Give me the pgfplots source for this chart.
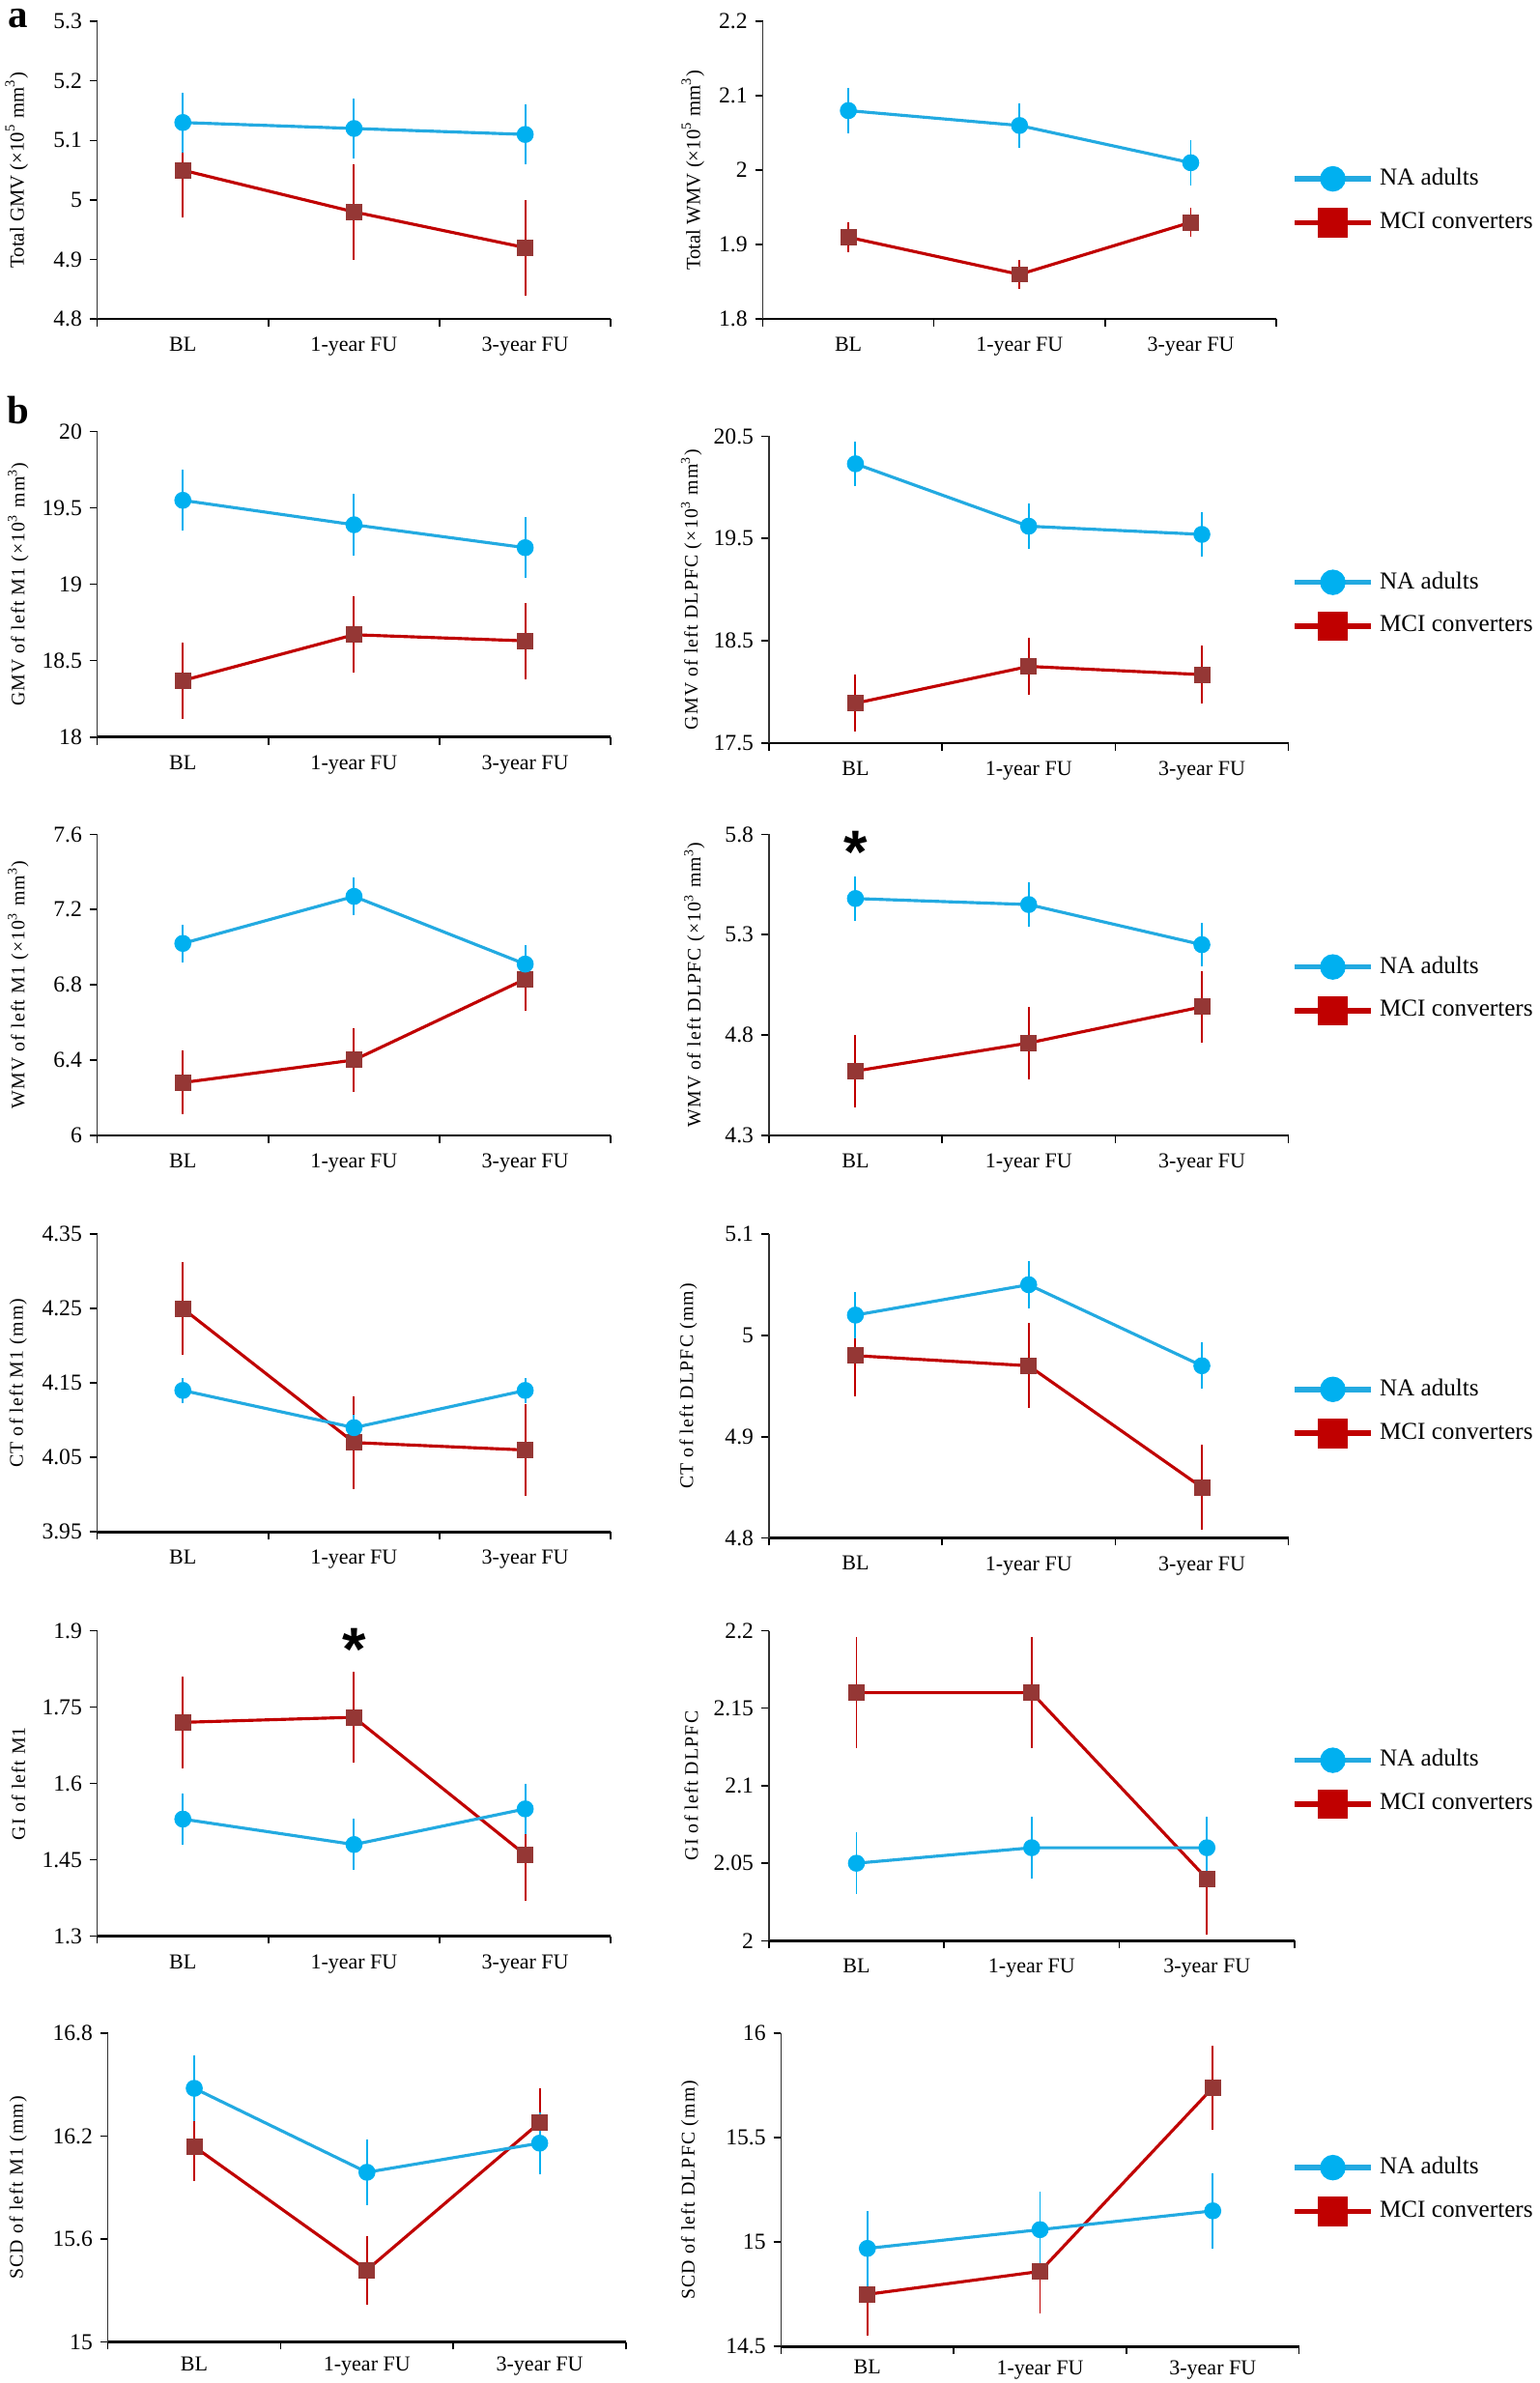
\documentclass[border=0pt]{standalone}
\usepackage{fontspec}
\setmainfont{Liberation Serif}
\newfontfamily\lblfont[LetterSpace=6]{Liberation Serif}
\newfontfamily\astfont{Liberation Sans}
\usepackage{pgfplots}
\pgfplotsset{compat=1.18}
\definecolor{nablue}{RGB}{0,176,240}
\definecolor{nabluel}{RGB}{35,170,225}
\definecolor{mcired}{RGB}{192,0,0}
\definecolor{mcibrown}{RGB}{149,55,53}

\pgfplotsset{
  panel/.style={
    scale only axis,
    anchor=south west,
    xmin=0.5, xmax=3.5,
    axis lines=left,
    axis line style={-},
    x axis line style={line width=0.8pt},
    y axis line style={line width=0.5pt, draw=black!80},
    tick align=outside,
    xtick={0.5,1.5,2.5,3.5},
    xticklabels={},
    extra x ticks={1,2,3},
    extra x tick labels={BL,1-year FU,3-year FU},
    extra x tick style={major tick length=0pt},
    major tick length=2.5pt,
    tick style={black, line width=0.5pt},
    x tick label style={font=\fontsize{7}{8}\selectfont, yshift=-2.5pt},
    y tick label style={font=\fontsize{7.5}{8}\selectfont, xshift=1pt},
    /pgf/number format/assume math mode=true,
    clip=false,
    reverse legend,
    legend cell align=left,
    legend style={draw=none, fill=none, font=\fontsize{8}{9}\selectfont, anchor=west,
      row sep=3.5pt, inner sep=0pt},
    legend image code/.code={\draw[mark repeat=2,mark phase=2,##1, line width=1.8pt, mark size=4pt]
       plot coordinates {(0pt,0pt) (12.5pt,0pt) (25pt,0pt)};},
  },
  ylab/.style 2 args={ylabel={#2},
    every axis y label/.style={at={([xshift=-#1]axis description cs:0,0.5)}, rotate=90, anchor=center,
      font=\lblfont\fontsize{6.3}{7}\selectfont}},
  leg/.style 2 args={legend style={at={([xshift=#2]axis description cs:1,#1)}}},
  nastyle/.style={color=nabluel, line width=1pt, mark=*, mark size=2.6pt,
    mark options={fill=nablue, draw=nablue, line width=0.4pt},
    error bars/.cd, y dir=both, y explicit, error mark=none,
    error bar style={line width=0.6pt, color=nablue}},
  mcistyle/.style={color=mcired, line width=1pt, mark=square*, mark size=2.5pt,
    mark options={fill=mcibrown, draw=mcibrown, line width=0.4pt},
    legend image post style={mark options={fill=mcired, draw=mcired}},
    error bars/.cd, y dir=both, y explicit, error mark=none,
    error bar style={line width=0.6pt, color=mcired}},
}

\begin{document}
\begin{tikzpicture}
\useasboundingbox (0,0) rectangle (506.5pt,784pt);
\node[font=\bfseries\fontsize{13}{13}\selectfont] at (6pt,778pt) {a};
\node[font=\bfseries\fontsize{13}{13}\selectfont] at (6pt,649pt) {b};

% ---------- Row 1 ----------
\begin{axis}[panel, at={(32pt,679pt)}, width=169pt, height=98pt,
  ymin=4.8, ymax=5.3, ytick={4.8,4.9,5,5.1,5.2,5.3},
  ylab={26.5pt}{Total GMV (×10\textsuperscript{5} mm\textsuperscript{3})},
  every axis y label/.append style={font=\fontsize{6.6}{7}\selectfont}]
\addplot[mcistyle] coordinates {(1,5.05) +- (0,0.08) (2,4.98) +- (0,0.08) (3,4.92) +- (0,0.08)};
\addplot[nastyle] coordinates {(1,5.13) +- (0,0.05) (2,5.12) +- (0,0.05) (3,5.11) +- (0,0.05)};
\end{axis}

\begin{axis}[panel, at={(251pt,679pt)}, width=169pt, height=98pt,
  ymin=1.8, ymax=2.2, ytick={1.8,1.9,2,2.1,2.2},
  ylab={23pt}{Total WMV (×10\textsuperscript{5} mm\textsuperscript{3})},
  every axis y label/.append style={font=\fontsize{6.6}{7}\selectfont},
  leg={0.398}{5pt}]
\addplot[mcistyle] coordinates {(1,1.91) +- (0,0.02) (2,1.86) +- (0,0.02) (3,1.93) +- (0,0.02)};
\addlegendentry{MCI converters}
\addplot[nastyle] coordinates {(1,2.08) +- (0,0.03) (2,2.06) +- (0,0.03) (3,2.01) +- (0,0.03)};
\addlegendentry{NA adults}
\end{axis}

% ---------- Row 2 ----------
\begin{axis}[panel, at={(32pt,541.5pt)}, width=169pt, height=100.5pt,
  ymin=18, ymax=20, ytick={18,18.5,19,19.5,20},
  ylab={26pt}{GMV of left M1 (×10\textsuperscript{3} mm\textsuperscript{3})}]
\addplot[mcistyle] coordinates {(1,18.37) +- (0,0.25) (2,18.67) +- (0,0.25) (3,18.63) +- (0,0.25)};
\addplot[nastyle] coordinates {(1,19.55) +- (0,0.2) (2,19.39) +- (0,0.2) (3,19.24) +- (0,0.2)};
\end{axis}

\begin{axis}[panel, at={(253pt,539.5pt)}, width=171pt, height=101pt,
  ymin=17.5, ymax=20.5, ytick={17.5,18.5,19.5,20.5},
  ylab={25.5pt}{GMV of left DLPFC (×10\textsuperscript{3} mm\textsuperscript{3})},
  leg={0.453}{1pt}]
\addplot[mcistyle] coordinates {(1,17.89) +- (0,0.28) (2,18.25) +- (0,0.28) (3,18.17) +- (0,0.28)};
\addlegendentry{MCI converters}
\addplot[nastyle] coordinates {(1,20.23) +- (0,0.22) (2,19.62) +- (0,0.22) (3,19.54) +- (0,0.22)};
\addlegendentry{NA adults}
\end{axis}

% ---------- Row 3 ----------
\begin{axis}[panel, at={(32pt,410.5pt)}, width=169pt, height=99pt,
  ymin=6, ymax=7.6, ytick={6,6.4,6.8,7.2,7.6},
  ylab={26pt}{WMV of left M1 (×10\textsuperscript{3} mm\textsuperscript{3})}]
\addplot[mcistyle] coordinates {(1,6.28) +- (0,0.17) (2,6.40) +- (0,0.17) (3,6.83) +- (0,0.17)};
\addplot[nastyle] coordinates {(1,7.02) +- (0,0.1) (2,7.27) +- (0,0.1) (3,6.91) +- (0,0.1)};
\end{axis}

\begin{axis}[panel, at={(253pt,410.5pt)}, width=171pt, height=99pt,
  ymin=4.3, ymax=5.8, ytick={4.3,4.8,5.3,5.8},
  ylab={24.5pt}{WMV of left DLPFC (×10\textsuperscript{3} mm\textsuperscript{3})},
  leg={0.487}{1pt}]
\addplot[mcistyle] coordinates {(1,4.62) +- (0,0.18) (2,4.76) +- (0,0.18) (3,4.94) +- (0,0.18)};
\addlegendentry{MCI converters}
\addplot[nastyle] coordinates {(1,5.48) +- (0,0.11) (2,5.45) +- (0,0.11) (3,5.25) +- (0,0.11)};
\addlegendentry{NA adults}
\node[font=\astfont\bfseries\fontsize{20}{20}\selectfont, yshift=-3pt] at (axis cs:1,5.755) {*};
\end{axis}

% ---------- Row 4 ----------
\begin{axis}[panel, at={(32pt,280pt)}, width=169pt, height=98pt,
  ymin=3.95, ymax=4.35, ytick={3.95,4.05,4.15,4.25,4.35},
  ylab={26pt}{CT of left M1 (mm)}]
\addplot[mcistyle] coordinates {(1,4.25) +- (0,0.062) (2,4.07) +- (0,0.062) (3,4.06) +- (0,0.062)};
\addplot[nastyle] coordinates {(1,4.14) +- (0,0.017) (2,4.09) +- (0,0.017) (3,4.14) +- (0,0.017)};
\end{axis}

\begin{axis}[panel, at={(253pt,278pt)}, width=171pt, height=100pt,
  ymin=4.8, ymax=5.1, ytick={4.8,4.9,5,5.1},
  ylab={26.5pt}{CT of left DLPFC (mm)},
  leg={0.4175}{1pt}]
\addplot[mcistyle] coordinates {(1,4.98) +- (0,0.04) (2,4.97) +- (0,0.042) (3,4.85) +- (0,0.042)};
\addlegendentry{MCI converters}
\addplot[nastyle] coordinates {(1,5.02) +- (0,0.023) (2,5.05) +- (0,0.023) (3,4.97) +- (0,0.023)};
\addlegendentry{NA adults}
\end{axis}

% ---------- Row 5 ----------
\begin{axis}[panel, at={(32pt,147pt)}, width=169pt, height=100.5pt,
  ymin=1.3, ymax=1.9, ytick={1.3,1.45,1.6,1.75,1.9},
  ylab={26pt}{GI of left M1}]
\addplot[mcistyle] coordinates {(1,1.72) +- (0,0.09) (2,1.73) +- (0,0.09) (3,1.46) +- (0,0.09)};
\addplot[nastyle] coordinates {(1,1.53) +- (0,0.05) (2,1.48) +- (0,0.05) (3,1.55) +- (0,0.05)};
\node[font=\astfont\bfseries\fontsize{20}{20}\selectfont, yshift=-3pt] at (axis cs:2,1.882) {*};
\end{axis}

\begin{axis}[panel, at={(253pt,145.5pt)}, width=173pt, height=102pt,
  ymin=2, ymax=2.2, ytick={2,2.05,2.1,2.15,2.2},
  ylab={25.5pt}{GI of left DLPFC},
  leg={0.512}{-1pt}]
\addplot[mcistyle] coordinates {(1,2.16) +- (0,0.036) (2,2.16) +- (0,0.036) (3,2.04) +- (0,0.036)};
\addlegendentry{MCI converters}
\addplot[nastyle] coordinates {(1,2.05) +- (0,0.02) (2,2.06) +- (0,0.02) (3,2.06) +- (0,0.02)};
\addlegendentry{NA adults}
\end{axis}

% ---------- Row 6 ----------
\begin{axis}[panel, at={(35.5pt,13.5pt)}, width=170.5pt, height=101.5pt,
  ymin=15, ymax=16.8, ytick={15,15.6,16.2,16.8},
  x tick label style={yshift=1pt},
  ylab={29.5pt}{SCD of left M1 (mm)}]
\addplot[mcistyle] coordinates {(1,16.14) +- (0,0.2) (2,15.42) +- (0,0.2) (3,16.28) +- (0,0.2)};
\addplot[nastyle] coordinates {(1,16.48) +- (0,0.19) (2,15.99) +- (0,0.19) (3,16.16) +- (0,0.18)};
\end{axis}

\begin{axis}[panel, at={(257pt,12pt)}, width=170.5pt, height=103pt,
  ymin=14.5, ymax=16, ytick={14.5,15,15.5,16},
  x tick label style={yshift=1.5pt},
  ylab={30pt}{SCD of left DLPFC (mm)},
  leg={0.502}{-2.5pt}]
\addplot[mcistyle] coordinates {(1,14.75) +- (0,0.2) (2,14.86) +- (0,0.2) (3,15.74) +- (0,0.2)};
\addlegendentry{MCI converters}
\addplot[nastyle] coordinates {(1,14.97) +- (0,0.18) (2,15.06) +- (0,0.18) (3,15.15) +- (0,0.18)};
\addlegendentry{NA adults}
\end{axis}
\end{tikzpicture}
\end{document}
